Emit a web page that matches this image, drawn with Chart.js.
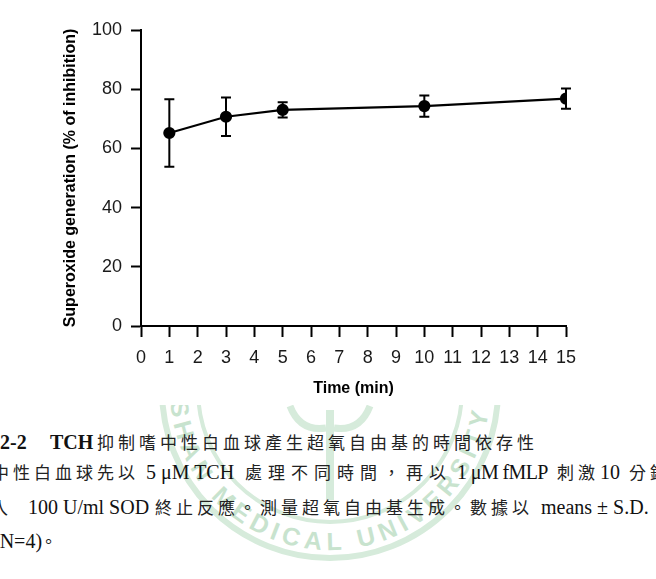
<!DOCTYPE html>
<html>
<head>
<meta charset="utf-8">
<script src="https://cdn.jsdelivr.net/npm/chart.js@4.4.0/dist/chart.umd.min.js"></script>
<style>
  html, body { margin: 0; padding: 0; background: #fff; }
  body { width: 656px; height: 579px; position: relative; overflow: hidden; }
  #mark { position: absolute; left: 0; top: 0; z-index: 0; }
  #chartBox { position: absolute; left: 0; top: 0; width: 656px; height: 405px; background: #fff; z-index: 1; }
  .cap { position: absolute; z-index: 2; white-space: pre; line-height: 20px; color: #111; }
  .lat { font-family: "Liberation Serif", "Times New Roman", serif; font-size: 20px; }
  .b { font-weight: bold; }
  .cjk { font-family: "Noto Sans CJK TC", sans-serif; font-size: 17px; letter-spacing: 4px; color: #222; }
</style>
</head>
<body>

<!-- faint university watermark behind the caption -->
<svg id="mark" width="656" height="579">
  <defs><path id="ring" d="M213.0 280.9 A160 160 0 1 0 489.6 401.2"/></defs>
  <g fill="none" stroke="#d6ebdb">
    <circle cx="330" cy="390" r="168" stroke-width="6"/>
    <circle cx="330" cy="390" r="132" stroke-width="4"/>
    <path d="M330 410 L330 500" stroke-width="8"/>
    <path d="M290 406 Q300 432 326 428 M370 406 Q360 432 334 428" stroke-width="7"/>
  </g>
  <text font-family="Liberation Sans" font-weight="bold" font-size="25" fill="#c8e3ce">
    <textPath href="#ring" textLength="600" lengthAdjust="spacing">CHUNG SHAN MEDICAL UNIVERSITY</textPath>
  </text>
</svg>

<div id="chartBox"><canvas id="timeChart"></canvas></div>

<!-- caption, line 1 -->
<span class="cap lat b" style="left:0;top:432px">2-2</span>
<span class="cap lat b" style="left:50px;top:432px">TCH</span>
<span class="cap cjk" style="left:97px;top:432px">抑制嗜中性白血球產生超氧自由基的時間依存性</span>
<!-- line 2 -->
<span class="cap cjk" style="left:-8px;top:462px">中性白血球先以</span>
<span class="cap lat" style="left:146px;top:462px">5 μM TCH</span>
<span class="cap cjk" style="left:245px;top:462px;letter-spacing:6px">處理不同時間，再以</span>
<span class="cap lat" style="left:457px;top:462px;letter-spacing:-0.6px">1 μM fMLP</span>
<span class="cap cjk" style="left:557px;top:462px">刺激</span>
<span class="cap lat" style="left:600px;top:462px">10</span>
<span class="cap cjk" style="left:629px;top:462px">分鐘</span>
<!-- line 3 -->
<span class="cap cjk" style="left:-9px;top:497px">入</span>
<span class="cap lat" style="left:28px;top:497px">100 U/ml SOD</span>
<span class="cap cjk" style="left:155px;top:497px">終止反應。測量超氧自由基生成。數據以</span>
<span class="cap lat" style="left:541px;top:497px">means ± S.D.</span>
<!-- line 4 -->
<span class="cap lat" style="left:-7px;top:531px">(N=4)</span>
<span class="cap cjk" style="left:40px;top:531px">。</span>

<script>
// Data
const times = [1, 3, 5, 10, 15];
const inhibition = [65.2, 70.7, 73.0, 74.3, 76.8];
const sdValues = [11.4, 6.5, 2.6, 3.6, 3.4];
const xTickValues = [0, 1, 2, 3, 4, 5, 6, 7, 8, 9, 10, 11, 12, 13, 14, 15];
const yTickValues = [0, 20, 40, 60, 80, 100];

const axisFont = { family: "'Liberation Sans', Arial, sans-serif", size: 18 };
const titleFont = { family: "'Liberation Sans', Arial, sans-serif", size: 16, weight: "bold" };

// Draw mean ± SD whiskers with caps
const errorBarPlugin = {
  id: "errorBars",
  afterDatasetsDraw(chart) {
    const { ctx, scales: { x, y } } = chart;
    ctx.save();
    ctx.strokeStyle = "#000";
    ctx.lineWidth = 2;
    times.forEach((t, i) => {
      const px = x.getPixelForValue(t);
      const top = y.getPixelForValue(inhibition[i] + sdValues[i]);
      const bottom = y.getPixelForValue(inhibition[i] - sdValues[i]);
      ctx.beginPath();
      ctx.moveTo(px, top);
      ctx.lineTo(px, bottom);
      ctx.moveTo(px - 5, top);
      ctx.lineTo(px + 5, top);
      ctx.moveTo(px - 5, bottom);
      ctx.lineTo(px + 5, bottom);
      ctx.stroke();
    });
    ctx.restore();
  },
};

const ctx = document.getElementById("timeChart").getContext("2d");
window.timeChart = new Chart(ctx, {
  type: "line",
  data: {
    datasets: [
      {
        label: "Superoxide inhibition",
        data: times.map((t, i) => ({ x: t, y: inhibition[i] })),
        borderColor: "#000",
        borderWidth: 2.2,
        pointRadius: 5,
        pointBackgroundColor: "#000",
        pointBorderColor: "#000",
        tension: 0,
        fill: false,
      },
    ],
  },
  options: {
    responsive: true,
    maintainAspectRatio: false,
    animation: false,
    layout: { padding: { left: 0, top: 30, right: 90, bottom: 7 } },
    plugins: {
      legend: { display: false },
      tooltip: { enabled: false },
    },
    scales: {
      x: {
        type: "linear",
        min: 0,
        max: 15,
        afterBuildTicks: (scale) => {
          scale.ticks = xTickValues.map((v) => ({ value: v }));
        },
        afterFit: (scale) => {
          scale.height = 72;
        },
        ticks: { font: axisFont, color: "#1a1a1a", padding: 10, maxRotation: 0, autoSkip: false },
        grid: { drawOnChartArea: false, drawTicks: true, tickLength: 11, tickWidth: 2, tickColor: "#000" },
        border: { display: true, color: "#000", width: 2 },
        title: { display: true, text: "Time (min)", font: titleFont, color: "#000", padding: { top: 0, bottom: 0 } },
      },
      y: {
        min: 0,
        max: 100,
        afterBuildTicks: (scale) => {
          scale.ticks = yTickValues.map((v) => ({ value: v }));
        },
        afterFit: (scale) => {
          scale.width = 141;
        },
        ticks: { font: axisFont, color: "#1a1a1a", padding: 9 },
        grid: { drawOnChartArea: false, drawTicks: true, tickLength: 10, tickWidth: 2, tickColor: "#000" },
        border: { display: true, color: "#000", width: 2 },
        title: {
          display: true,
          text: "Superoxide generation (% of inhibition)",
          font: titleFont,
          color: "#000",
          padding: { top: 61, bottom: 0 },
        },
      },
    },
  },
  plugins: [errorBarPlugin],
});
</script>
</body>
</html>
